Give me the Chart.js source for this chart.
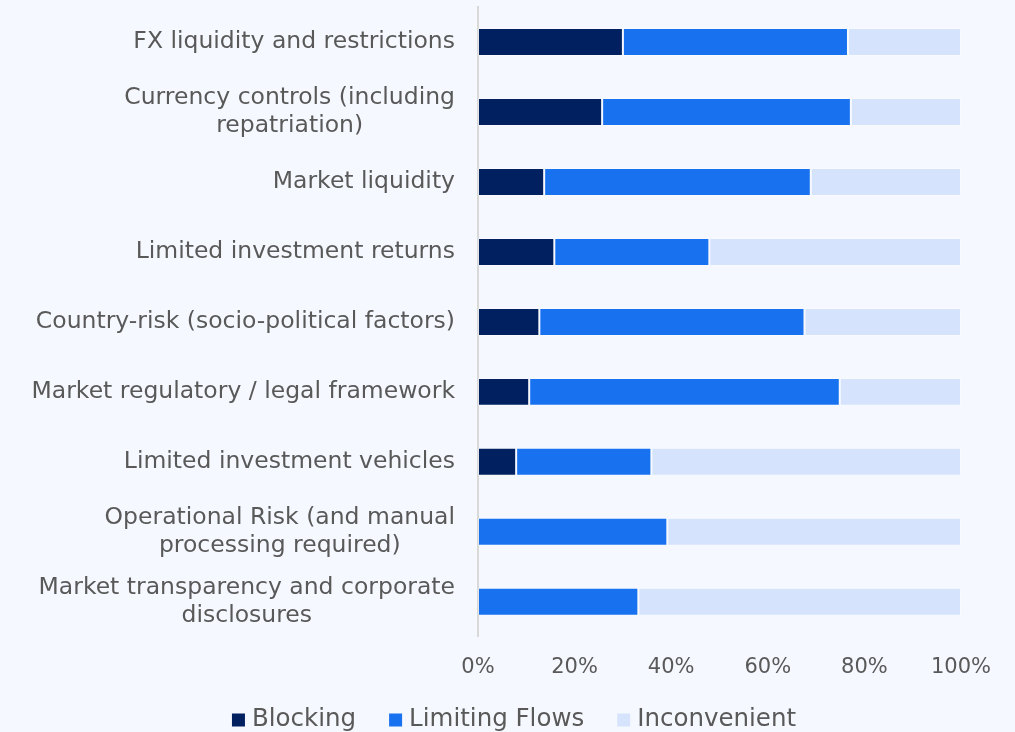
<!DOCTYPE html>
<html>
<head>
<meta charset="utf-8">
<script src="https://cdn.jsdelivr.net/npm/chart.js@4"></script>
<style>
html,body{margin:0;padding:0;background:#F5F8FE;overflow:hidden;}
#wrap{width:1015px;height:732px;position:relative;}
</style>
</head>
<body>
<div id="wrap"><canvas id="c"></canvas></div>
<script>
const categories = [
  "FX liquidity and restrictions",
  ["Currency controls (including", "repatriation)"],
  "Market liquidity",
  "Limited investment returns",
  "Country-risk (socio-political factors)",
  "Market regulatory / legal framework",
  "Limited investment vehicles",
  ["Operational Risk (and manual", "processing required)"],
  ["Market transparency and corporate", "disclosures"]
];
const seriesNames  = ["Blocking", "Limiting Flows", "Inconvenient"];
const blocking     = [30.0, 25.7, 13.7, 15.8, 12.7, 10.6, 7.9, 0, 0];
const limitingFlows= [46.6, 51.5, 55.2, 32.1, 54.9, 64.3, 28.0, 39.2, 33.2];
const inconvenient = [23.4, 22.8, 31.1, 52.1, 32.4, 25.1, 64.1, 60.8, 66.8];
const tickLabels = ["0%", "20%", "40%", "60%", "80%", "100%"];

const FONT = "'DejaVu Sans', sans-serif";
const TXT = "#595959";
const LABEL_SIZE = 23.5;
const LEGEND_SIZE = 24.5;
const LINE_H = 28;

// Category labels: block right-aligned to the axis, lines centred within the block
const yLabelPlugin = {
  id: 'yLabels',
  afterDraw(chart) {
    const s = chart.scales.y;
    const ctx = chart.ctx;
    ctx.save();
    ctx.font = LABEL_SIZE + 'px ' + FONT;
    ctx.fillStyle = TXT;
    ctx.textBaseline = 'middle';
    ctx.textAlign = 'center';
    chart.data.labels.forEach((c, i) => {
      const lines = Array.isArray(c) ? c : [c];
      const w = Math.max(...lines.map(l => ctx.measureText(l).width));
      const cx = s.right - 23 - w / 2;
      const y0 = s.getPixelForTick(i) - (lines.length - 1) * LINE_H / 2;
      lines.forEach((l, j) => ctx.fillText(l, cx, y0 + j * LINE_H));
    });
    ctx.restore();
  }
};

// Legend drawn below the axis (partly cut by the bottom edge, as in the reference)
const legendPlugin = {
  id: 'bottomLegend',
  afterDraw(chart) {
    const ctx = chart.ctx;
    const box = 13, gap = 7, itemGap = 33;
    ctx.save();
    ctx.font = LEGEND_SIZE + 'px ' + FONT;
    ctx.textBaseline = 'middle';
    ctx.textAlign = 'left';
    const items = chart.data.datasets.map(d => ({text: d.label, color: d.backgroundColor, w: ctx.measureText(d.label).width}));
    const total = items.reduce((a, it) => a + box + gap + it.w, 0) + itemGap * (items.length - 1);
    let x = chart.width / 2 + 6.5 - total / 2;
    const y = chart.height - 12;
    items.forEach(it => {
      ctx.fillStyle = it.color;
      ctx.fillRect(x, y - box / 2, box, box);
      ctx.fillStyle = TXT;
      ctx.fillText(it.text, x + box + gap, y);
      x += box + gap + it.w + itemGap;
    });
    ctx.restore();
  }
};

new Chart(document.getElementById('c'), {
  type: 'bar',
  data: {
    labels: categories,
    datasets: [
      {label: seriesNames[0], data: blocking, backgroundColor: "#002060", borderColor: "rgba(255,255,255,0.3)", borderWidth: 1, borderSkipped: false},
      {label: seriesNames[1], data: limitingFlows, backgroundColor: "#1872F0", borderColor: "rgba(255,255,255,0.3)", borderWidth: 1, borderSkipped: false},
      {label: seriesNames[2], data: inconvenient, backgroundColor: "#D6E3FC", borderColor: "rgba(255,255,255,0.3)", borderWidth: 1, borderSkipped: false}
    ]
  },
  plugins: [yLabelPlugin, legendPlugin],
  options: {
    indexAxis: 'y',
    responsive: true,
    maintainAspectRatio: false,
    animation: false,
    layout: {padding: {top: 7, right: 54, left: 0, bottom: 34}},
    datasets: {bar: {categoryPercentage: 1.0, barPercentage: 0.4}},
    scales: {
      x: {
        stacked: true, min: 0, max: 100,
        grid: {display: false, drawTicks: false},
        border: {display: false},
        ticks: {stepSize: 20, padding: 18, color: TXT, font: {family: FONT, size: 21},
          callback: (v, i) => tickLabels[i]}
      },
      y: {
        stacked: true,
        grid: {display: false, drawTicks: false},
        border: {display: true, color: "#D9D9D9", width: 2},
        ticks: {display: false},
        afterFit: (a) => { a.width = 478; a.paddingTop = 0; a.paddingBottom = 0; }
      }
    },
    plugins: {
      legend: {display: false},
      tooltip: {enabled: false}
    }
  }
});
</script>
</body>
</html>
